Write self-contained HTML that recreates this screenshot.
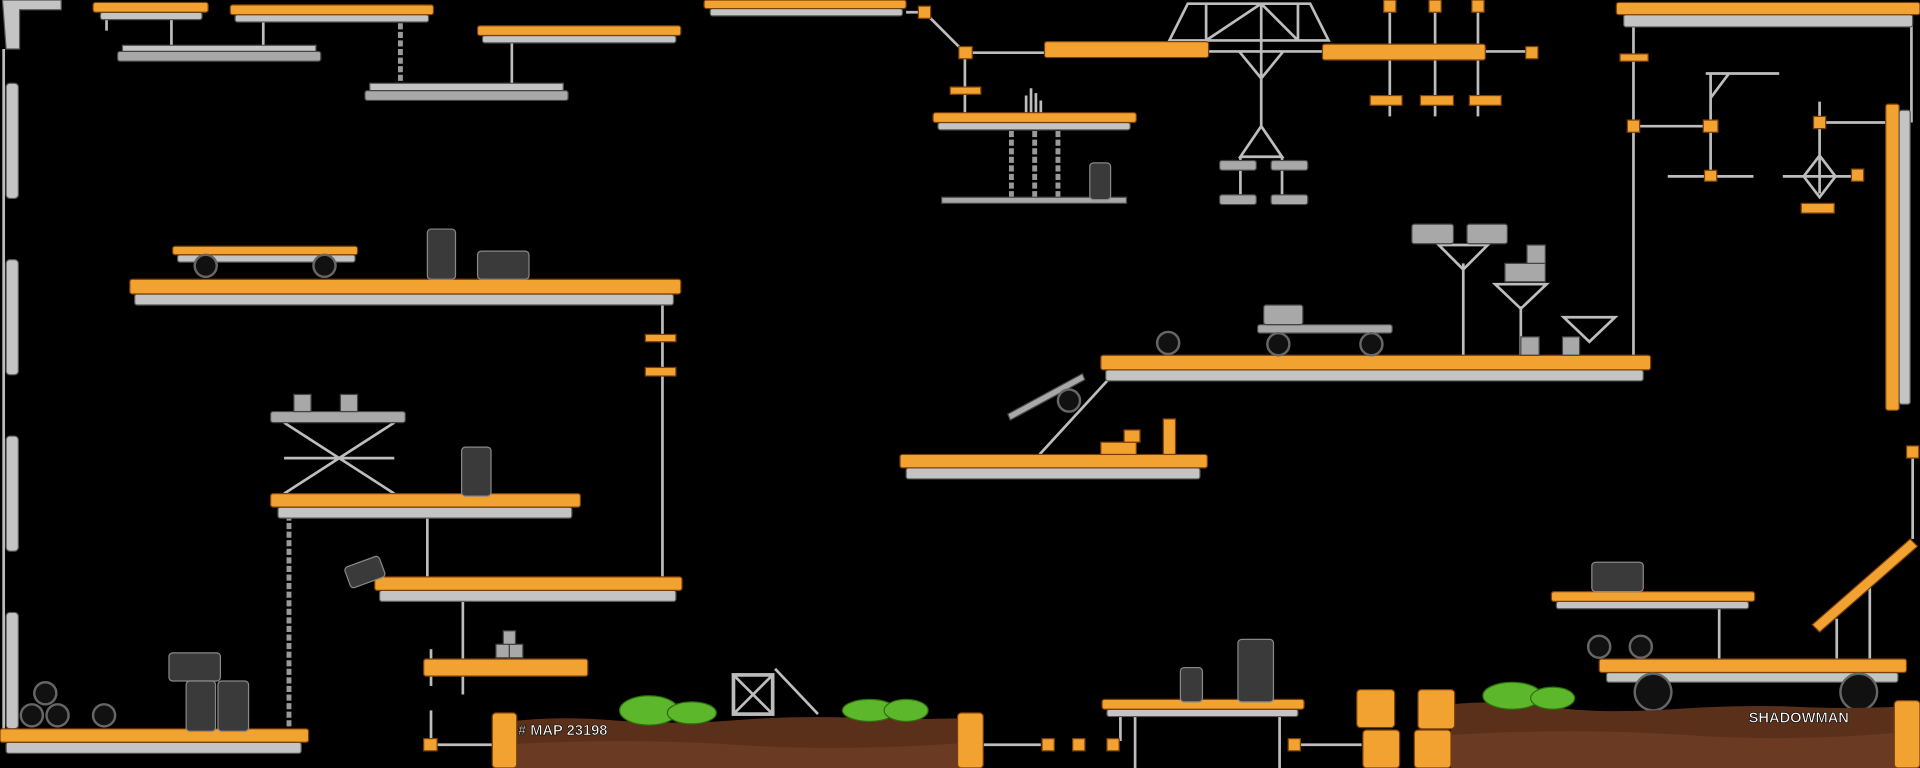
<!DOCTYPE html>
<html><head><meta charset="utf-8"><style>
html,body{margin:0;padding:0;background:#000;width:1920px;height:768px;overflow:hidden}
svg{display:block}
.o{fill:#f2a230;stroke:#7a3e08;stroke-width:1}
.s{fill:#c4c4c4;stroke:#555;stroke-width:1}
.g{fill:#a8a8a8;stroke:#444;stroke-width:1}
.r{stroke:#bdbdbd;stroke-width:2.2;fill:none}
.c{stroke:#999;stroke-width:4;fill:none;stroke-dasharray:5 2}
.b{fill:#3a3a3a;stroke:#888;stroke-width:1}
.w{fill:#111;stroke:#666;stroke-width:2}
.bush{fill:#5cb82a;stroke:#2e6e10;stroke-width:1}
.dirt{fill:#5a301a}
</style></head><body>
<svg width="1920" height="768" viewBox="0 0 1568 627" preserveAspectRatio="none">
<rect width="1568" height="627" fill="#000"/>
<!-- left wall -->
<path class="s" d="M2 0h48v8H16v32H5z"/>
<rect class="s" x="5" y="68" width="10" height="94" rx="3"/>
<rect class="s" x="5" y="212" width="10" height="94" rx="3"/>
<rect class="s" x="5" y="356" width="10" height="94" rx="3"/>
<rect class="s" x="5" y="500" width="10" height="95" rx="3"/>
<line class="r" x1="3" y1="40" x2="3" y2="600" stroke-width="1"/>
<!-- rods -->
<line class="r" x1="140" y1="15" x2="140" y2="41"/><line class="r" x1="215" y1="18" x2="215" y2="41"/>
<line class="r" x1="87" y1="15" x2="87" y2="25"/>
<line class="c" x1="327" y1="12" x2="327" y2="74"/><line class="r" x1="418" y1="29" x2="418" y2="74"/>
<line class="r" x1="541" y1="249" x2="541" y2="471"/><line class="r" x1="349" y1="423" x2="349" y2="471"/>
<line class="r" x1="378" y1="491" x2="378" y2="567"/><line class="r" x1="352" y1="530" x2="352" y2="560"/>
<line class="c" x1="236" y1="413" x2="236" y2="610" stroke-width="6"/>
<line class="r" x1="352" y1="580" x2="352" y2="608"/><line class="r" x1="352" y1="608" x2="402" y2="608"/>
<line class="c" x1="826" y1="100" x2="826" y2="161"/><line class="c" x1="845" y1="100" x2="845" y2="161"/><line class="c" x1="864" y1="100" x2="864" y2="161"/>
<line class="r" x1="740" y1="10" x2="755" y2="10"/><line class="r" x1="755" y1="10" x2="788" y2="43"/><line class="r" x1="788" y1="43" x2="853" y2="43"/>
<line class="r" x1="788" y1="43" x2="788" y2="92"/>
<path class="r" d="M838 92v-14M842 92v-20M846 92v-16M850 92v-10"/>
<line class="r" x1="987" y1="42" x2="1080" y2="42"/><line class="r" x1="1213" y1="42" x2="1250" y2="42"/>
<line class="r" x1="1135" y1="5" x2="1135" y2="95"/><line class="r" x1="1172" y1="5" x2="1172" y2="95"/><line class="r" x1="1207" y1="5" x2="1207" y2="95"/>
<path class="r" d="M955 33l15-30h100l15 30H955zM985 3v30M1030 3v30M1060 3v30M985 33l45-30M1060 33l-30-30M1030 33v70M1012 42l18 22 18-22M1030 103l-17 25h34zM1013 128v31M1047 128v31"/>
<line class="r" x1="1334" y1="20" x2="1334" y2="290"/><line class="r" x1="1334" y1="103" x2="1397" y2="103"/>
<path class="r" d="M1397 60v80M1393 60h60M1397 80l15-20M1362 144h70M1486 83v75M1486 100h55M1456 144h60M1486 127l-13 17 13 17 13-17z"/>
<line class="r" x1="1561" y1="20" x2="1561" y2="100"/>
<line class="r" x1="1562" y1="370" x2="1562" y2="440"/>
<path class="r" d="M1195 215v75M1242 250v40M1285 275v15M1175 200h40l-20 20zM1221 232h42l-21 20zM1277 259h42l-21 20z"/>
<path class="r" d="M232 345l90 58M322 345l-90 58M232 374h90"/>
<line class="r" x1="849" y1="371" x2="905" y2="310"/>
<path class="r" d="M1404 490v48M1500 505v33M1527 480v58"/>
<path class="r" d="M927 585v42M1045 585v42M1062 608h50M803 608h47M915 585v20"/>
<line class="r" x1="633" y1="546" x2="668" y2="583"/>
<rect x="599" y="551" width="32" height="32" fill="none" stroke="#bbb" stroke-width="3"/><path class="r" d="M599 551l32 32M631 551l-32 32"/>
<!-- planks -->
<rect class="s" x="82" y="10" width="83" height="6" rx="2"/><rect class="o" x="76" y="2" width="94" height="8" rx="2"/>
<rect class="s" x="192" y="12" width="158" height="6" rx="2"/><rect class="o" x="188" y="4" width="166" height="8" rx="2"/>
<rect class="s" x="394" y="29" width="158" height="6" rx="2"/><rect class="o" x="390" y="21" width="166" height="8" rx="2"/>
<rect class="s" x="580" y="7" width="157" height="6" rx="2"/><rect class="o" x="575" y="0" width="165" height="7" rx="2"/>
<rect class="s" x="1326" y="12" width="236" height="10" rx="2"/><rect class="o" x="1320" y="2" width="248" height="10" rx="2"/>
<rect class="s" x="145" y="208" width="145" height="6" rx="2"/><rect class="o" x="141" y="201" width="151" height="7" rx="2"/>
<rect class="s" x="110" y="240" width="440" height="9" rx="2"/><rect class="o" x="106" y="228" width="450" height="12" rx="2"/>
<rect class="s" x="227" y="414" width="240" height="9" rx="2"/><rect class="o" x="221" y="403" width="253" height="11" rx="2"/>
<rect class="s" x="310" y="482" width="242" height="9" rx="2"/><rect class="o" x="306" y="471" width="251" height="11" rx="2"/>
<rect class="o" x="346" y="538" width="134" height="14" rx="2"/>
<rect class="s" x="5" y="606" width="241" height="9" rx="2"/><rect class="o" x="0" y="595" width="252" height="11" rx="2"/>
<rect class="s" x="766" y="100" width="157" height="6" rx="2"/><rect class="o" x="762" y="92" width="166" height="8" rx="2"/>
<rect class="s" x="903" y="302" width="439" height="9" rx="2"/><rect class="o" x="899" y="290" width="449" height="12" rx="2"/>
<rect class="s" x="740" y="382" width="240" height="9" rx="2"/><rect class="o" x="735" y="371" width="251" height="11" rx="2"/>
<rect class="s" x="1271" y="491" width="157" height="6" rx="2"/><rect class="o" x="1267" y="483" width="166" height="8" rx="2"/>
<rect class="s" x="1312" y="549" width="238" height="8" rx="2"/><rect class="o" x="1306" y="538" width="251" height="11" rx="2"/>
<rect class="s" x="904" y="579" width="156" height="6" rx="2"/><rect class="o" x="900" y="571" width="165" height="8" rx="2"/>
<rect class="o" x="853" y="34" width="134" height="13" rx="2"/><rect class="o" x="1080" y="36" width="133" height="13" rx="2"/>
<rect class="o" x="1540" y="85" width="11" height="250" rx="2"/><rect class="s" x="1551" y="90" width="9" height="240" rx="2"/>
<polygon class="o" points="1480,510 1560,440 1566,446 1486,516"/>
<!-- grey slabs -->
<rect class="s" x="100" y="37" width="158" height="5"/><rect class="g" x="96" y="42" width="166" height="8" rx="2"/>
<rect class="s" x="302" y="68" width="158" height="6"/><rect class="g" x="298" y="74" width="166" height="8" rx="2"/>
<rect class="g" x="769" y="161" width="151" height="5"/>
<rect class="g" x="221" y="336" width="110" height="9" rx="2"/>
<rect class="g" x="1027" y="265" width="110" height="7" rx="2"/>
<polygon class="g" points="823,338 884,305 886,310 825,343"/>
<!-- grey blocks -->
<g class="g"><rect x="240" y="322" width="14" height="14"/><rect x="278" y="322" width="14" height="14"/>
<rect x="1153" y="183" width="34" height="16" rx="2"/><rect x="1198" y="183" width="33" height="16" rx="2"/>
<rect x="1229" y="215" width="33" height="15"/><rect x="1247" y="200" width="15" height="15"/>
<rect x="1242" y="275" width="15" height="15"/><rect x="1276" y="275" width="14" height="15"/>
<rect x="405" y="526" width="11" height="11"/><rect x="416" y="526" width="11" height="11"/><rect x="411" y="515" width="10" height="11"/>
<rect x="996" y="131" width="30" height="8" rx="2"/><rect x="1038" y="131" width="30" height="8" rx="2"/>
<rect x="996" y="159" width="30" height="8" rx="2"/><rect x="1038" y="159" width="30" height="8" rx="2"/>
<rect x="1032" y="249" width="32" height="16" rx="2"/></g>
<!-- orange connectors -->
<g class="o"><rect x="527" y="273" width="25" height="6"/><rect x="527" y="300" width="25" height="7"/>
<rect x="750" y="5" width="10" height="10"/><rect x="783" y="38" width="11" height="10"/><rect x="776" y="71" width="25" height="6"/>
<rect x="1130" y="0" width="10" height="10"/><rect x="1167" y="0" width="10" height="10"/><rect x="1202" y="0" width="10" height="10"/>
<rect x="1119" y="78" width="26" height="8"/><rect x="1160" y="78" width="27" height="8"/><rect x="1200" y="78" width="26" height="8"/>
<rect x="1246" y="38" width="10" height="10"/><rect x="1323" y="44" width="23" height="6"/>
<rect x="1329" y="98" width="10" height="10"/><rect x="1391" y="98" width="12" height="10"/><rect x="1392" y="139" width="10" height="9"/>
<rect x="1481" y="95" width="10" height="10"/><rect x="1512" y="138" width="10" height="10"/><rect x="1471" y="166" width="27" height="8"/>
<rect x="1557" y="364" width="10" height="10"/><rect x="346" y="603" width="11" height="10"/>
<rect x="851" y="603" width="10" height="10"/><rect x="876" y="603" width="10" height="10"/><rect x="904" y="603" width="10" height="10"/><rect x="1052" y="603" width="10" height="10"/>
<rect x="899" y="361" width="29" height="10"/><rect x="918" y="351" width="13" height="10"/><rect x="950" y="342" width="10" height="29"/></g>
<!-- barrels -->
<g class="b"><rect x="349" y="187" width="23" height="41" rx="3"/><rect x="390" y="205" width="42" height="23" rx="3"/>
<rect x="377" y="365" width="24" height="40" rx="3"/><rect x="283" y="458" width="30" height="18" rx="3" transform="rotate(-20 298 467)"/>
<rect x="138" y="533" width="42" height="23" rx="3"/><rect x="152" y="556" width="24" height="41" rx="3"/><rect x="178" y="556" width="25" height="41" rx="3"/>
<rect x="890" y="133" width="17" height="30" rx="3"/><rect x="964" y="545" width="18" height="28" rx="3"/><rect x="1011" y="522" width="29" height="51" rx="3"/>
<rect x="1300" y="459" width="42" height="24" rx="3"/></g>
<!-- wheels -->
<g class="w"><circle cx="168" cy="217" r="9"/><circle cx="265" cy="217" r="9"/>
<circle cx="37" cy="566" r="9"/><circle cx="26" cy="584" r="9"/><circle cx="47" cy="584" r="9"/><circle cx="85" cy="584" r="9"/>
<circle cx="954" cy="280" r="9"/><circle cx="873" cy="327" r="9"/><circle cx="1044" cy="281" r="9"/><circle cx="1120" cy="281" r="9"/>
<circle cx="1306" cy="528" r="9"/><circle cx="1340" cy="528" r="9"/><circle cx="1350" cy="565" r="15"/><circle cx="1518" cy="565" r="15"/></g>
<!-- ground -->
<path class="dirt" d="M410 590q40-6 90-2t100 0 100-2 95 0V627H410z"/>
<path d="M410 608q100-6 190 0t195-2V627H410z" fill="#6a3a22"/>
<path class="dirt" d="M1185 575q40-4 80 2t100 2 100-2 85 0V627H1185z"/>
<path d="M1185 600q100-6 190 0t175-2V627H1185z" fill="#6a3a22"/>
<g class="bush"><ellipse cx="530" cy="580" rx="24" ry="12"/><ellipse cx="565" cy="582" rx="20" ry="9"/>
<ellipse cx="710" cy="580" rx="22" ry="9"/><ellipse cx="740" cy="580" rx="18" ry="9"/>
<ellipse cx="1235" cy="568" rx="24" ry="11"/><ellipse cx="1268" cy="570" rx="18" ry="9"/></g>
<g class="o"><rect x="402" y="582" width="20" height="45" rx="3"/><rect x="782" y="582" width="21" height="45" rx="3"/><rect x="1547" y="572" width="21" height="55" rx="3"/>
<rect x="1108" y="563" width="31" height="31" rx="3"/><rect x="1113" y="596" width="30" height="31" rx="3"/>
<rect x="1158" y="563" width="30" height="32" rx="3"/><rect x="1155" y="596" width="30" height="31" rx="3"/></g>
<text x="423" y="600" fill="#fff" stroke="#000" stroke-width="0.5" font-family="Liberation Sans, sans-serif" font-weight="bold" font-size="12">#&#160;MAP 23198</text>
<text x="1428" y="590" fill="#fff" stroke="#000" stroke-width="0.5" font-family="Liberation Sans, sans-serif" font-weight="bold" font-size="12">SHADOWMAN</text>
</svg>
</body></html>
